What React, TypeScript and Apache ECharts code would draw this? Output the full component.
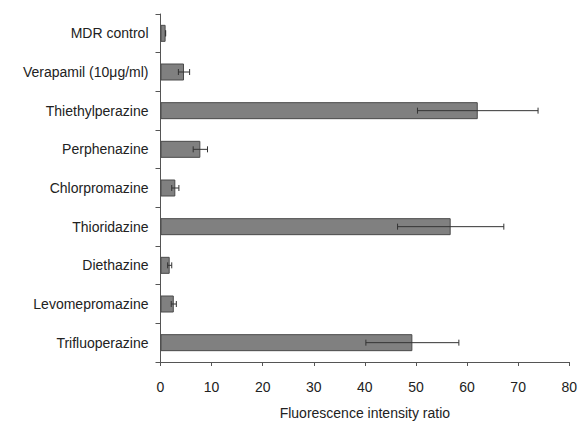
import React, { useEffect, useRef } from "react";
import * as echarts from "echarts";

const categories = [
  "MDR control",
  "Verapamil (10\u03bcg/ml)",
  "Thiethylperazine",
  "Perphenazine",
  "Chlorpromazine",
  "Thioridazine",
  "Diethazine",
  "Levomepromazine",
  "Trifluoperazine",
];
const values = [1.0, 4.6, 62.1, 7.8, 2.9, 56.8, 1.8, 2.6, 49.3];
const errors = [0, 1.1, 11.8, 1.4, 0.7, 10.4, 0.4, 0.5, 9.1];
const xTicks = { min: 0, max: 80, interval: 10 };
const axisTitle = "Fluorescence intensity ratio";

export default function App() {
  const ref = useRef<HTMLDivElement>(null);
  useEffect(() => {
    if (!ref.current) return;
    const chart = echarts.init(ref.current, undefined, { renderer: "svg" });
    const font = "Liberation Sans, Arial, sans-serif";
    const errData = categories.map((c, i) => [i, values[i] - errors[i], values[i] + errors[i]]);
    chart.setOption({
      animation: false,
      backgroundColor: "#ffffff",
      grid: { left: 160.5, right: 9.5, top: 14, bottom: 57 },
      xAxis: {
        type: "value",
        min: xTicks.min,
        max: xTicks.max,
        interval: xTicks.interval,
        splitLine: { show: false },
        axisLine: { show: true, lineStyle: { color: "#555", width: 1 } },
        axisTick: { show: true, length: 4, lineStyle: { color: "#555" } },
        axisLabel: { margin: 18, fontSize: 14, color: "#222", fontFamily: font },
        name: axisTitle,
        nameLocation: "middle",
        nameGap: 44,
        nameTextStyle: { fontSize: 14, color: "#222", fontFamily: font },
      },
      yAxis: {
        type: "category",
        data: categories,
        inverse: true,
        axisLine: { show: true, lineStyle: { color: "#555", width: 1 } },
        axisTick: { show: true, length: 5, lineStyle: { color: "#555" } },
        axisLabel: { margin: 12, fontSize: 14, color: "#222", fontFamily: font },
      },
      series: [
        {
          type: "bar",
          data: values,
          barWidth: 17,
          itemStyle: { color: "#808080", borderColor: "#4a4a4a", borderWidth: 1 },
        },
        {
          type: "custom",
          data: errData,
          z: 10,
          renderItem: (params: any, api: any) => {
            const idx = api.value(0);
            const lo = api.coord([api.value(1), idx]);
            const hi = api.coord([api.value(2), idx]);
            const y = lo[1];
            const h = 3;
            const style = { stroke: "#333", lineWidth: 1 };
            return {
              type: "group",
              children: [
                { type: "line", shape: { x1: lo[0], y1: y, x2: hi[0], y2: y }, style },
                { type: "line", shape: { x1: lo[0], y1: y - h, x2: lo[0], y2: y + h }, style },
                { type: "line", shape: { x1: hi[0], y1: y - h, x2: hi[0], y2: y + h }, style },
              ],
            };
          },
          encode: { x: [1, 2], y: 0 },
        },
      ],
    });
    return () => chart.dispose();
  }, []);
  return <div ref={ref} style={{ width: 580, height: 425, position: "absolute", left: 0, top: 0 }} />;
}
